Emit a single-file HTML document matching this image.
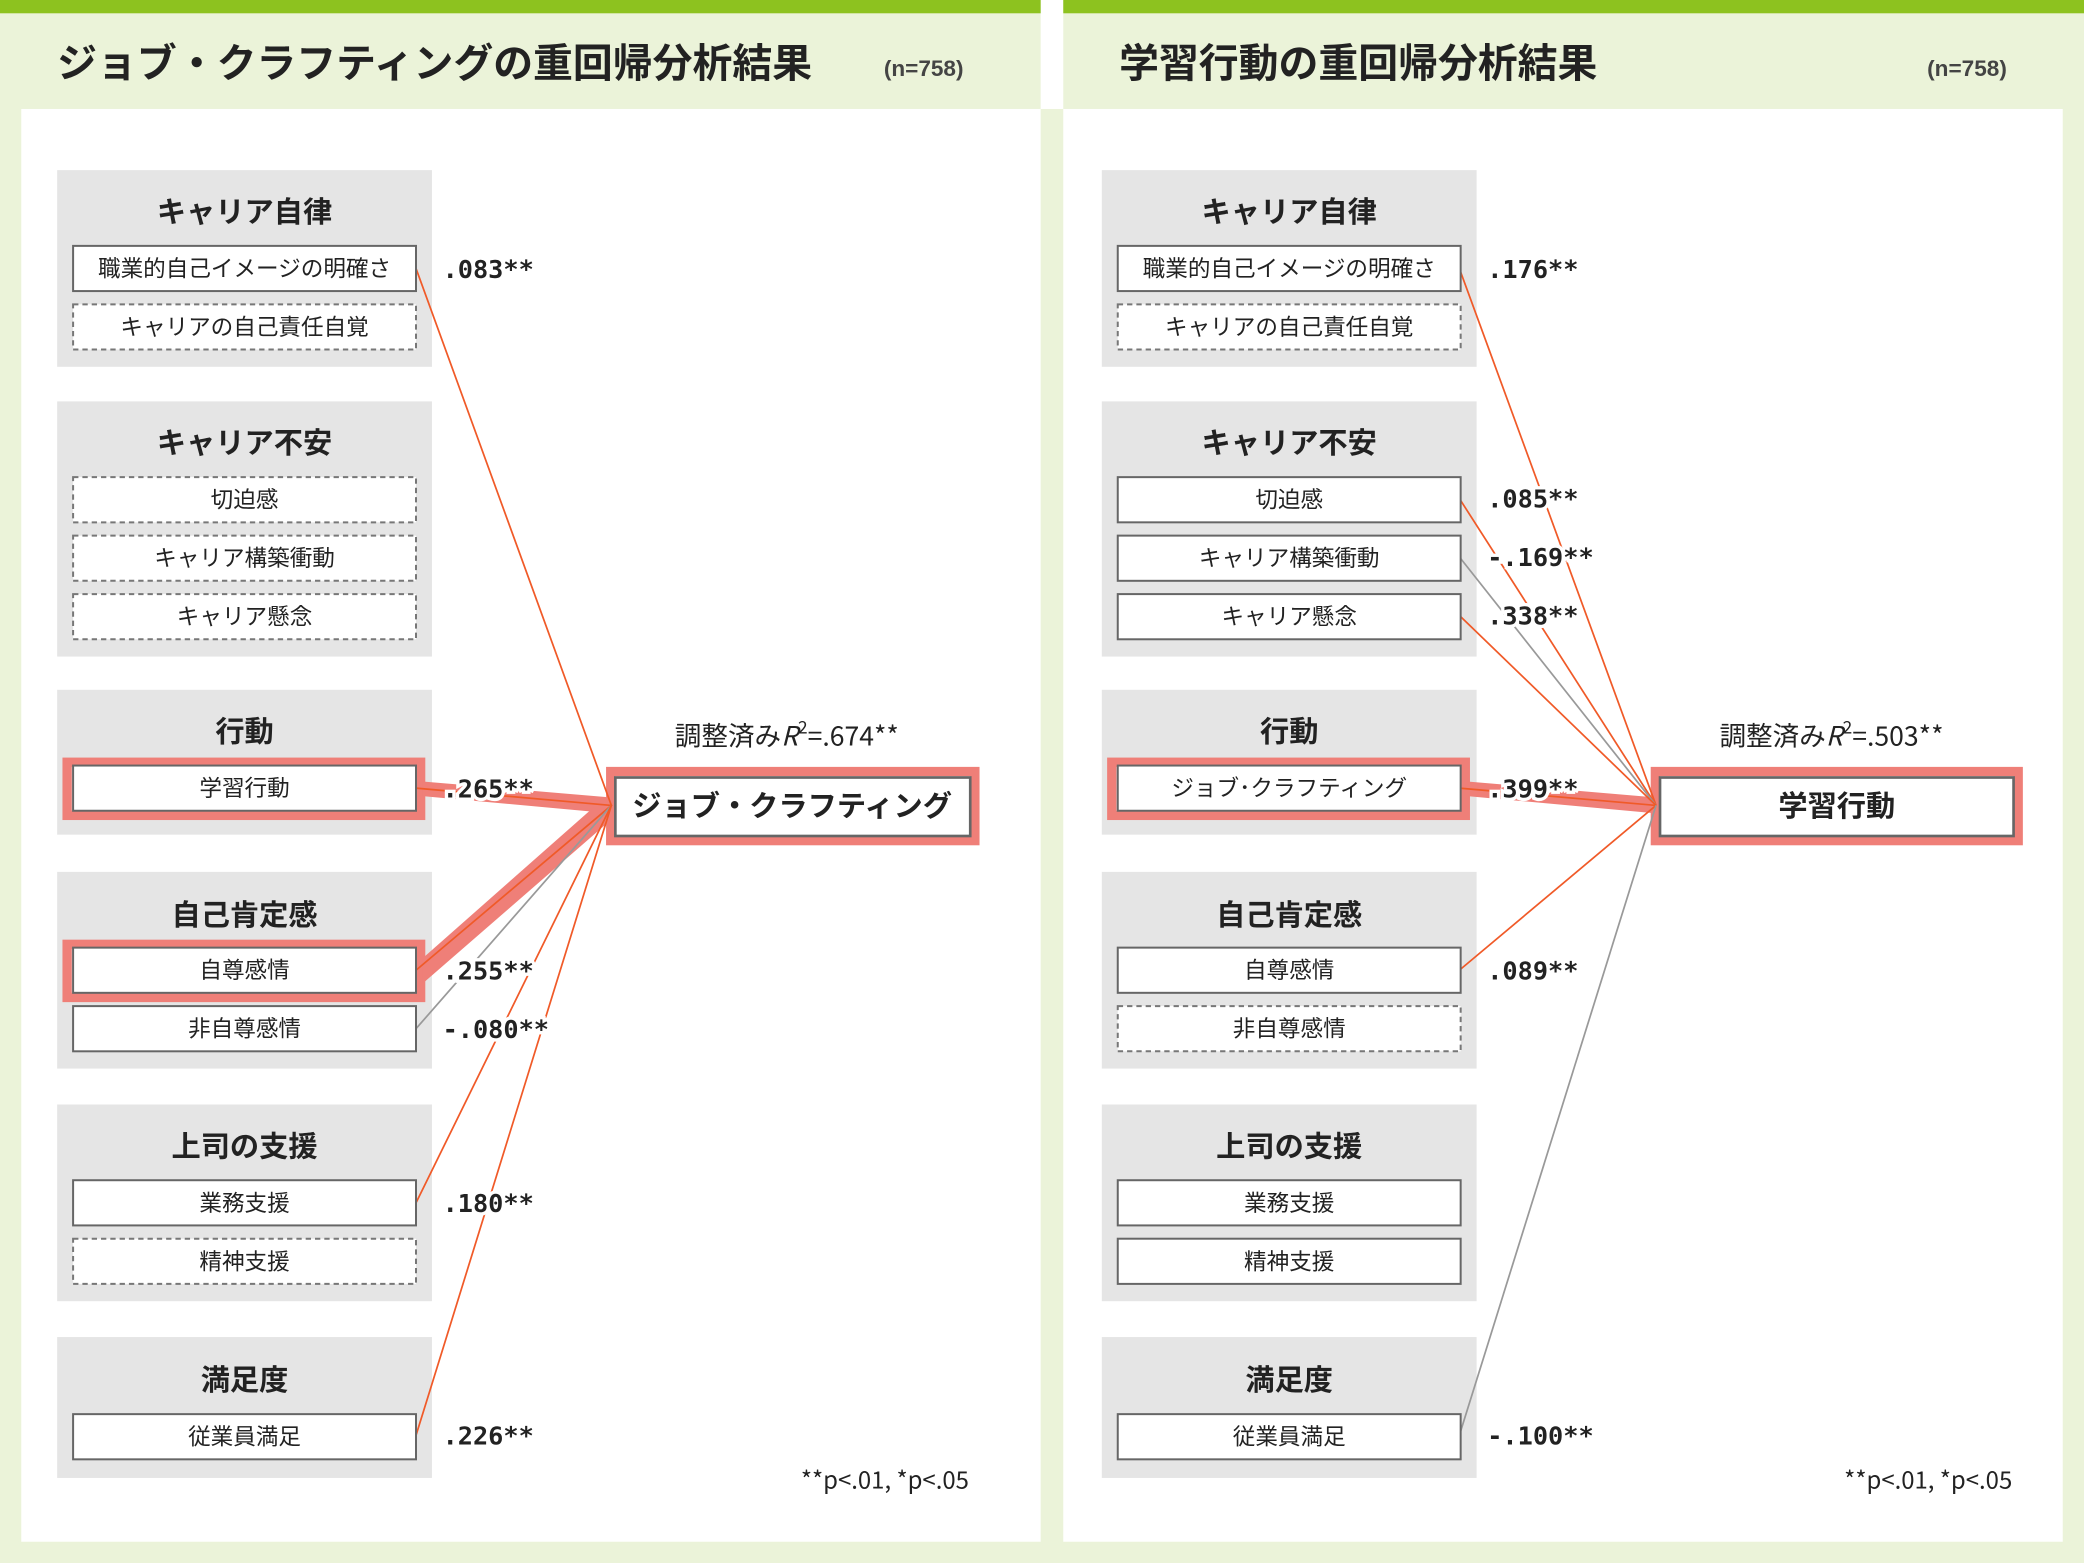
<!DOCTYPE html>
<html><head><meta charset="utf-8"><style>
html,body{margin:0;padding:0;background:#fff;}
svg{display:block;}
text{font-family:"Liberation Sans","Noto Sans CJK JP",sans-serif;fill:#222;}
.gt{font-size:22px;font-weight:bold;text-anchor:middle;}
.bt{font-size:17px;text-anchor:middle;}
.co{font-family:"DejaVu Sans Mono","Noto Sans CJK JP",monospace;font-size:19px;font-weight:bold;paint-order:stroke;stroke:#fff;stroke-width:5px;fill:#222;}
.ti{font-size:30px;font-weight:bold;}
.n{font-size:17px;font-weight:bold;fill:#444;}
.cj{font-family:"Noto Sans CJK JP",sans-serif;}
</style></head><body>
<svg width="2084" height="1563" viewBox="0 0 1568 1176" xmlns="http://www.w3.org/2000/svg">
<rect x="0" y="0" width="1568" height="1176" fill="#ebf3d9"/>
<rect x="783" y="0" width="17" height="82" fill="#fff"/>
<rect x="0" y="0" width="783" height="10" fill="#8dc21f"/>
<rect x="800" y="0" width="768" height="10" fill="#8dc21f"/>
<rect x="16" y="82" width="767" height="1078" fill="#fff"/>
<rect x="800" y="82" width="752" height="1078" fill="#fff"/>

<text class="ti" x="43" y="58">ジョブ・クラフティングの重回帰分析結果</text>
<text class="n" x="665" y="57">(n=758)</text>
<text class="ti" x="842" y="58">学習行動の重回帰分析結果</text>
<text class="n" x="1450" y="57">(n=758)</text>

<g fill="#e5e5e5">
<rect x="43" y="128" width="282" height="148"/>
<rect x="43" y="302" width="282" height="192"/>
<rect x="43" y="519" width="282" height="109"/>
<rect x="43" y="656" width="282" height="148"/>
<rect x="43" y="831" width="282" height="148"/>
<rect x="43" y="1006" width="282" height="106"/>
<rect x="829" y="128" width="282" height="148"/>
<rect x="829" y="302" width="282" height="192"/>
<rect x="829" y="519" width="282" height="109"/>
<rect x="829" y="656" width="282" height="148"/>
<rect x="829" y="831" width="282" height="148"/>
<rect x="829" y="1006" width="282" height="106"/>
</g>
<g>
<text class="gt" x="184" y="167">キャリア自律</text>
<text class="gt" x="184" y="341">キャリア不安</text>
<text class="gt" x="184" y="558">行動</text>
<text class="gt" x="184" y="696">自己肯定感</text>
<text class="gt" x="184" y="870">上司の支援</text>
<text class="gt" x="184" y="1046">満足度</text>
<text class="gt" x="970" y="167">キャリア自律</text>
<text class="gt" x="970" y="341">キャリア不安</text>
<text class="gt" x="970" y="558">行動</text>
<text class="gt" x="970" y="696">自己肯定感</text>
<text class="gt" x="970" y="870">上司の支援</text>
<text class="gt" x="970" y="1046">満足度</text>
</g>

<g fill="none" stroke="#ef7f78" stroke-width="7">
<rect x="50.5" y="573.5" width="266" height="40"/>
<rect x="50.5" y="710.5" width="266" height="40"/>
<rect x="836.5" y="573.5" width="266" height="40"/>
<rect x="459.5" y="580.5" width="274" height="52"/>
<rect x="1245.5" y="580.5" width="273" height="52"/>
</g>

<g stroke-linecap="round">
<polygon points="318,588 318,599 460,612 460,600" fill="#ef7f78"/>
<polygon points="318,721 318,740 463,614 455,600" fill="#ef7f78"/>
<line x1="313" y1="202" x2="460" y2="606" stroke="#f05a28" stroke-width="1.3"/>
<line x1="313" y1="593" x2="460" y2="606" stroke="#f05a28" stroke-width="1.3"/>
<line x1="313" y1="730" x2="460" y2="606" stroke="#f05a28" stroke-width="1.3"/>
<line x1="313" y1="774" x2="460" y2="606" stroke="#999" stroke-width="1.3"/>
<line x1="313" y1="905" x2="460" y2="606" stroke="#f05a28" stroke-width="1.3"/>
<line x1="313" y1="1080" x2="460" y2="606" stroke="#f05a28" stroke-width="1.3"/>
</g>
<g>
<polygon points="1104,588 1104,599 1246,612 1246,600" fill="#ef7f78"/>
<line x1="1098" y1="202" x2="1246" y2="606" stroke="#f05a28" stroke-width="1.3"/>
<line x1="1098" y1="375" x2="1246" y2="606" stroke="#f05a28" stroke-width="1.3"/>
<line x1="1098" y1="419" x2="1246" y2="606" stroke="#999" stroke-width="1.3"/>
<line x1="1098" y1="463" x2="1246" y2="606" stroke="#f05a28" stroke-width="1.3"/>
<line x1="1098" y1="593" x2="1246" y2="606" stroke="#f05a28" stroke-width="1.3"/>
<line x1="1098" y1="730" x2="1246" y2="606" stroke="#f05a28" stroke-width="1.3"/>
<line x1="1098" y1="1080" x2="1246" y2="606" stroke="#999" stroke-width="1.3"/>
</g>

<g fill="#fff" stroke="#666" stroke-width="1.5">
<rect x="55" y="185" width="258" height="34"/>
<rect x="55" y="576" width="258" height="34"/>
<rect x="55" y="713" width="258" height="34"/>
<rect x="55" y="757" width="258" height="34"/>
<rect x="55" y="888" width="258" height="34"/>
<rect x="55" y="1064" width="258" height="34"/>
<rect x="841" y="185" width="258" height="34"/>
<rect x="841" y="359" width="258" height="34"/>
<rect x="841" y="403" width="258" height="34"/>
<rect x="841" y="447" width="258" height="34"/>
<rect x="841" y="576" width="258" height="34"/>
<rect x="841" y="713" width="258" height="34"/>
<rect x="841" y="888" width="258" height="34"/>
<rect x="841" y="932" width="258" height="34"/>
<rect x="841" y="1064" width="258" height="34"/>
<rect x="463" y="585" width="267" height="44" stroke-width="2"/>
<rect x="1249" y="585" width="266" height="44" stroke-width="2"/>
</g>
<g fill="#fff" stroke="#777" stroke-width="1.5" stroke-dasharray="4,3">
<rect x="55" y="229" width="258" height="34"/>
<rect x="55" y="359" width="258" height="34"/>
<rect x="55" y="403" width="258" height="34"/>
<rect x="55" y="447" width="258" height="34"/>
<rect x="55" y="932" width="258" height="34"/>
<rect x="841" y="229" width="258" height="34"/>
<rect x="841" y="757" width="258" height="34"/>
</g>

<g>
<text class="bt" x="184" y="208">職業的自己イメージの明確さ</text>
<text class="bt" x="184" y="252">キャリアの自己責任自覚</text>
<text class="bt" x="184" y="382">切迫感</text>
<text class="bt" x="184" y="426">キャリア構築衝動</text>
<text class="bt" x="184" y="470">キャリア懸念</text>
<text class="bt" x="184" y="599">学習行動</text>
<text class="bt" x="184" y="736">自尊感情</text>
<text class="bt" x="184" y="780">非自尊感情</text>
<text class="bt" x="184" y="911">業務支援</text>
<text class="bt" x="184" y="955">精神支援</text>
<text class="bt" x="184" y="1087">従業員満足</text>
<text class="bt" x="970" y="208">職業的自己イメージの明確さ</text>
<text class="bt" x="970" y="252">キャリアの自己責任自覚</text>
<text class="bt" x="970" y="382">切迫感</text>
<text class="bt" x="970" y="426">キャリア構築衝動</text>
<text class="bt" x="970" y="470">キャリア懸念</text>
<text class="bt" x="970" y="599">ジョブ･クラフティング</text>
<text class="bt" x="970" y="736">自尊感情</text>
<text class="bt" x="970" y="780">非自尊感情</text>
<text class="bt" x="970" y="911">業務支援</text>
<text class="bt" x="970" y="955">精神支援</text>
<text class="bt" x="970" y="1087">従業員満足</text>
<text x="596" y="614" style="font-size:22px;font-weight:bold;text-anchor:middle">ジョブ・クラフティング</text>
<text x="1382" y="614" style="font-size:22px;font-weight:bold;text-anchor:middle">学習行動</text>
<text class="cj" x="592" y="561" style="font-size:20px;text-anchor:middle">調整済み<tspan font-style="italic">R</tspan><tspan font-size="13" dy="-9">2</tspan><tspan dy="9">=.674**</tspan></text>
<text class="cj" x="1378" y="561" style="font-size:20px;text-anchor:middle">調整済み<tspan font-style="italic">R</tspan><tspan font-size="13" dy="-9">2</tspan><tspan dy="9">=.503**</tspan></text>
<text class="cj" x="729" y="1120" style="font-size:18px;text-anchor:end">**p&lt;.01, *p&lt;.05</text>
<text class="cj" x="1514" y="1120" style="font-size:18px;text-anchor:end">**p&lt;.01, *p&lt;.05</text>
</g>

<g>
<text class="co" x="333" y="209">.083**</text>
<text class="co" x="333" y="600">.265**</text>
<text class="co" x="333" y="737">.255**</text>
<text class="co" x="333" y="781">-.080**</text>
<text class="co" x="333" y="912">.180**</text>
<text class="co" x="333" y="1087">.226**</text>
<text class="co" x="1119" y="209">.176**</text>
<text class="co" x="1119" y="382">.085**</text>
<text class="co" x="1119" y="426">-.169**</text>
<text class="co" x="1119" y="470">.338**</text>
<text class="co" x="1119" y="600">.399**</text>
<text class="co" x="1119" y="737">.089**</text>
<text class="co" x="1119" y="1087">-.100**</text>
</g>
</svg>
</body></html>
